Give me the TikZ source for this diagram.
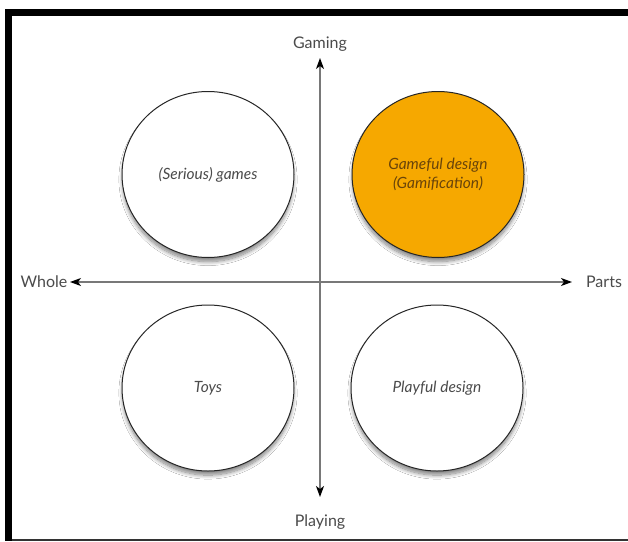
\documentclass[tikz,border=0pt]{standalone}
\usepackage{fontspec}
\setmainfont{Lato}
\usetikzlibrary{shapes.geometric,shadows.blur,arrows.meta}
\definecolor{gameorange}{RGB}{246,168,0}
\definecolor{labelgray}{RGB}{75,75,75}
\definecolor{axisgray}{RGB}{120,120,120}
\begin{document}
\begin{tikzpicture}[x=1pt,y=-1pt,
  quad/.style={ellipse, draw=black!85, line width=1pt, fill=white,
    minimum width=172pt, minimum height=166pt, inner sep=0pt,
    font=\fontsize{15.5}{19}\selectfont\itshape, text=labelgray, align=center,
    blur shadow={shadow xshift=0pt, shadow yshift=-5pt, shadow scale=0.99, shadow blur steps=10, shadow opacity=50, shadow blur radius=4pt}},
  axlabel/.style={font=\fontsize{16}{18}\selectfont, text=labelgray, inner sep=1pt},
  axis/.style={draw=axisgray, line width=1.1pt, {Stealth[length=11pt,width=8pt,inset=3pt,black]}-{Stealth[length=11pt,width=8pt,inset=3pt,black]}}
]
\useasboundingbox (0,0) rectangle (628,541);
\fill[white] (0,0) rectangle (628,541);
% frame
\fill[black] (5,9) rectangle (628,16);
\fill[black] (5,9) rectangle (12,541);
\fill[black!80] (12,538.5) rectangle (628,541);
% axis labels
\node[axlabel] (gaming) at (320,44) {Gaming};
\node[axlabel] (playing) at (320,522) {Playing};
\node[axlabel] (whole) at (44,282) {Whole};
\node[axlabel] (parts) at (604,282) {Parts};
\coordinate (top) at (320,58);
\coordinate (bottom) at (320,497);
\coordinate (left) at (70,282);
\coordinate (right) at (572,282);
\draw[axis] (top) -- (bottom);
\draw[axis] (left) -- (right);
% quadrants
\node[quad] (serious) at (208,174.5) {(Serious) games};
\node[quad, fill=gameorange, text={rgb,255:red,105;green,68;blue,10}] (gameful) at (438,174.5) {Gameful design\\(Gamification)};
\node[quad] (toys) at (208,388) {Toys};
\node[quad] (playful) at (437,388) {Playful design};
\end{tikzpicture}
\end{document}
